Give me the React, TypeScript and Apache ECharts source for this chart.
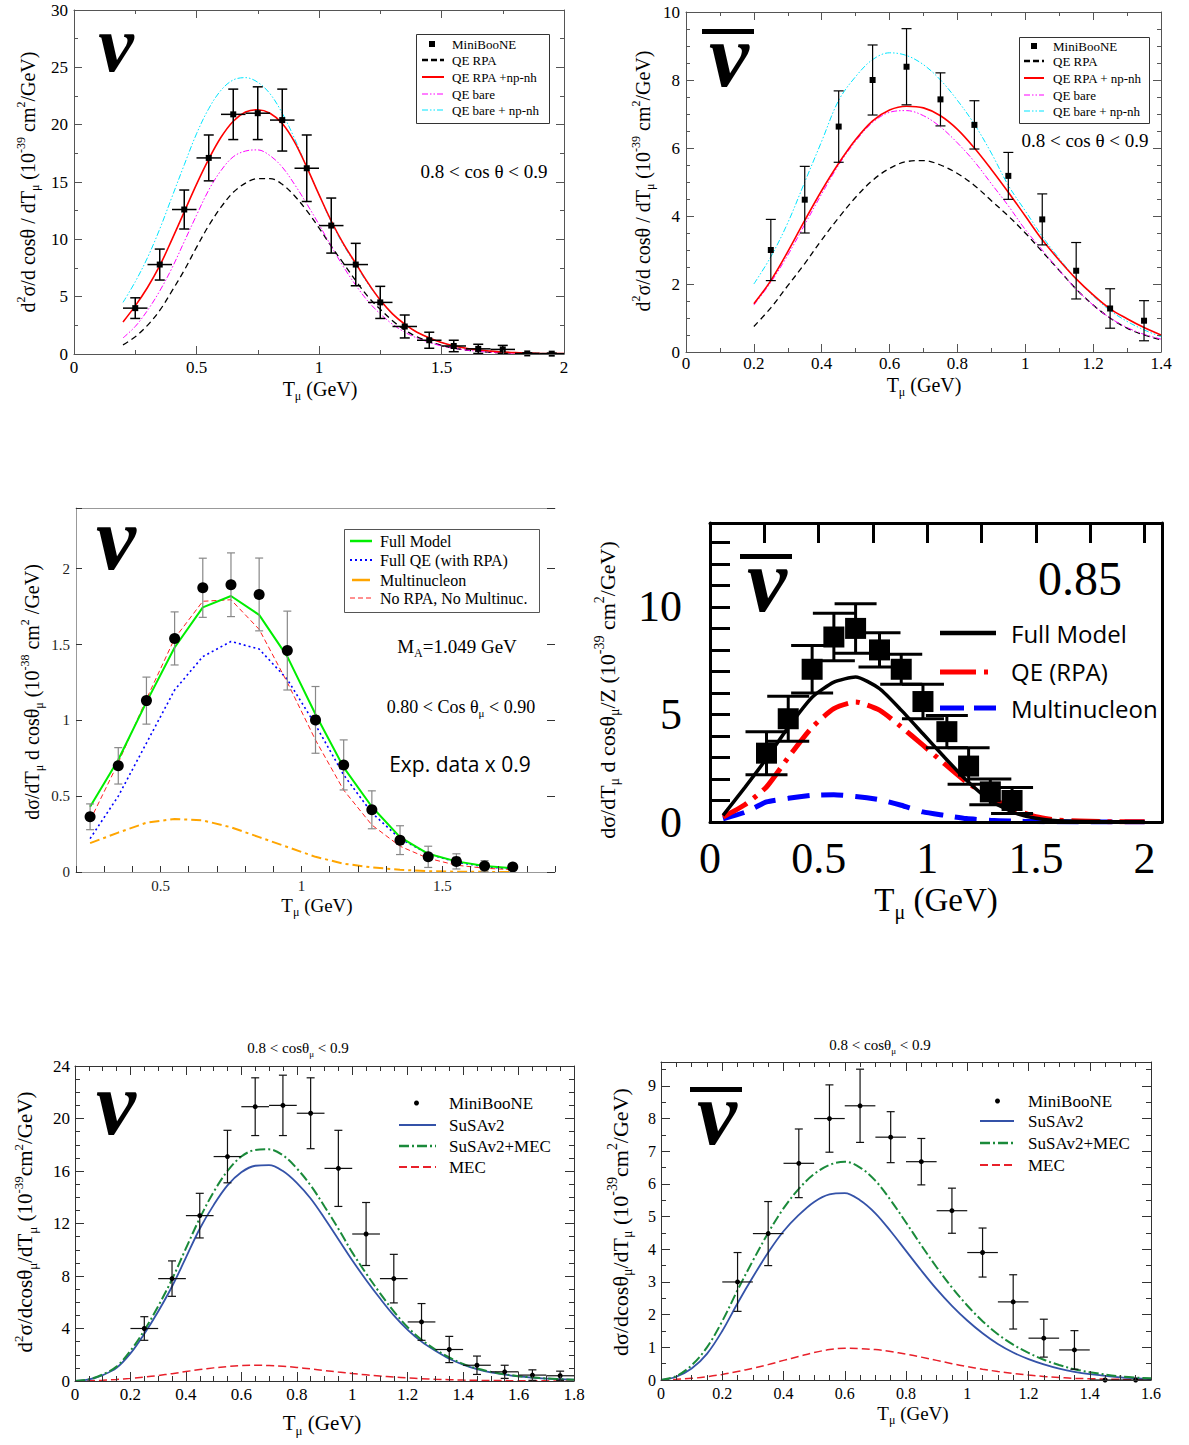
import React, { useEffect, useRef } from "react";
import * as echarts from "echarts";

const SERIF = "Liberation Serif";
const SANS = "Open Sans";

// ---------------- data ----------------
// MiniBooNE neutrino, 0.8 < cos θ < 0.9
const NU_T = [0.25, 0.35, 0.45, 0.55, 0.65, 0.75, 0.85, 0.95, 1.05, 1.15, 1.25, 1.35, 1.45, 1.55, 1.65, 1.75, 1.85, 1.95];
const NU_XS = [4.0, 7.8, 12.6, 17.1, 20.9, 21.0, 20.4, 16.2, 11.2, 7.8, 4.5, 2.4, 1.2, 0.7, 0.45, 0.4, 0.05, 0.03];
const NU_ERR = [0.9, 1.35, 1.7, 2.0, 2.2, 2.3, 2.7, 2.9, 2.4, 1.85, 1.4, 1.0, 0.7, 0.5, 0.4, 0.35, 0.05, 0.05];
const BIN_HALF = 0.05;

// MiniBooNE antineutrino, 0.8 < cos θ < 0.9
const NUBAR_T = [0.25, 0.35, 0.45, 0.55, 0.65, 0.75, 0.85, 0.95, 1.05, 1.15, 1.25, 1.35, 1.45, 1.55];
const NUBAR_XS = [3.0, 4.48, 6.63, 8.0, 8.39, 7.43, 6.68, 5.18, 3.9, 2.39, 1.28, 0.92, 0.0, 0.0];
const NUBAR_ERR = [0.9, 0.98, 1.05, 1.03, 1.12, 0.78, 0.71, 0.69, 0.75, 0.83, 0.58, 0.59, 0, 0];

// Panel 1 (nu, Martini et al.)
const P1_T = [0.2, 0.25, 0.3, 0.35, 0.4, 0.45, 0.5, 0.55, 0.6, 0.65, 0.7, 0.75, 0.8, 0.85, 0.9, 0.95, 1.0, 1.05, 1.1, 1.15, 1.2, 1.25, 1.3, 1.35, 1.4, 1.5, 1.6, 1.7, 1.8, 1.9, 2.0];
const P1_QE_RPA = [0.8, 1.5, 2.5, 3.8, 5.5, 7.3, 9.3, 11.2, 12.8, 14.1, 14.9, 15.3, 15.3, 14.8, 13.8, 12.5, 11.0, 9.4, 7.9, 6.4, 5.0, 3.9, 2.9, 2.1, 1.5, 0.75, 0.35, 0.15, 0.07, 0.03, 0.01];
const P1_QE_RPA_NPNH = [2.8, 4.2, 5.8, 7.7, 10.0, 12.4, 14.8, 17.0, 18.9, 20.3, 21.1, 21.3, 21.0, 20.1, 18.5, 16.3, 13.9, 11.6, 9.6, 7.9, 6.2, 4.7, 3.5, 2.6, 1.9, 1.0, 0.5, 0.25, 0.12, 0.06, 0.03];
const P1_QE_BARE = [1.4, 2.4, 3.8, 5.5, 7.5, 9.8, 12.1, 14.3, 16.0, 17.2, 17.7, 17.8, 17.3, 16.3, 14.8, 13.1, 11.3, 9.4, 7.6, 6.0, 4.6, 3.5, 2.6, 1.9, 1.4, 0.7, 0.35, 0.15, 0.07, 0.03, 0.01];
const P1_QE_BARE_NPNH = [4.5, 6.3, 8.4, 10.9, 13.7, 16.5, 19.2, 21.4, 23.0, 23.9, 24.1, 23.7, 22.7, 21.0, 18.8, 16.3, 13.9, 11.5, 9.5, 7.8, 6.1, 4.7, 3.5, 2.6, 1.9, 1.0, 0.5, 0.25, 0.12, 0.06, 0.03];

// Panel 2 (nubar, Martini et al.)
const P2_T = [0.2, 0.25, 0.3, 0.35, 0.4, 0.45, 0.5, 0.55, 0.6, 0.65, 0.7, 0.75, 0.8, 0.85, 0.9, 0.95, 1.0, 1.05, 1.1, 1.15, 1.2, 1.25, 1.3, 1.35, 1.4];
const P2_QE_RPA = [0.75, 1.3, 1.95, 2.6, 3.3, 3.95, 4.55, 5.05, 5.4, 5.6, 5.63, 5.5, 5.25, 4.9, 4.45, 4.0, 3.5, 2.95, 2.4, 1.85, 1.38, 1.0, 0.7, 0.5, 0.36];
const P2_QE_RPA_NPNH = [1.42, 2.1, 2.95, 3.87, 4.75, 5.55, 6.25, 6.8, 7.12, 7.23, 7.18, 6.95, 6.55, 6.0, 5.37, 4.7, 4.0, 3.3, 2.7, 2.15, 1.68, 1.27, 0.98, 0.72, 0.5];
const P2_QE_BARE = [1.38, 2.05, 2.85, 3.75, 4.65, 5.5, 6.2, 6.75, 7.05, 7.1, 6.95, 6.62, 6.15, 5.6, 4.95, 4.3, 3.6, 3.0, 2.4, 1.85, 1.38, 1.0, 0.72, 0.52, 0.38];
const P2_QE_BARE_NPNH = [2.0, 2.8, 3.8, 5.0, 6.2, 7.4, 8.1, 8.6, 8.8, 8.72, 8.45, 8.0, 7.4, 6.7, 5.85, 4.9, 4.15, 3.4, 2.75, 2.15, 1.65, 1.22, 0.9, 0.65, 0.45];

// Panel 3 (nu, Nieves et al., data x 0.9)
const P3_T = [0.25, 0.35, 0.45, 0.55, 0.65, 0.75, 0.85, 0.95, 1.05, 1.15, 1.25, 1.35, 1.45, 1.55, 1.65, 1.75];
const P3_XS = [0.364, 0.7, 1.13, 1.54, 1.874, 1.894, 1.83, 1.46, 1.003, 0.706, 0.41, 0.21, 0.1, 0.07, 0.04, 0.033];
const P3_ERR = [0.085, 0.12, 0.155, 0.175, 0.195, 0.21, 0.24, 0.26, 0.22, 0.165, 0.125, 0.095, 0.07, 0.05, 0.035, 0.02];
const P3_FULL = [0.43, 0.74, 1.12, 1.48, 1.745, 1.82, 1.695, 1.42, 1.04, 0.69, 0.43, 0.23, 0.12, 0.07, 0.04, 0.025];
const P3_QE_RPA = [0.22, 0.5, 0.85, 1.2, 1.42, 1.52, 1.47, 1.27, 0.97, 0.64, 0.39, 0.22, 0.12, 0.065, 0.035, 0.02];
const P3_MULTI = [0.19, 0.26, 0.325, 0.35, 0.34, 0.295, 0.23, 0.165, 0.1, 0.055, 0.03, 0.015, 0.005, 0.002, 0.001, 0.0];
const P3_NO_RPA = [0.34, 0.72, 1.14, 1.54, 1.785, 1.795, 1.6, 1.25, 0.87, 0.54, 0.31, 0.17, 0.09, 0.045, 0.025, 0.015];

// Panel 4 (nubar, cos θ = 0.85)
const P4_T = [0.06, 0.16, 0.26, 0.36, 0.47, 0.57, 0.67, 0.78, 0.88, 0.98, 1.08, 1.18, 1.29, 1.39, 1.5, 1.6, 1.8, 2.0];
const P4_FULL = [0.31, 1.6, 2.95, 4.4, 5.8, 6.5, 6.74, 6.2, 5.2, 4.1, 3.0, 1.94, 1.0, 0.47, 0.17, 0.06, 0.02, 0.01];
const P4_QE_RPA = [0.23, 0.8, 1.63, 3.0, 4.4, 5.27, 5.58, 5.2, 4.42, 3.57, 2.7, 1.86, 1.16, 0.62, 0.25, 0.09, 0.02, 0.01];
const P4_MULTI = [0.15, 0.45, 0.93, 1.1, 1.24, 1.27, 1.19, 1.04, 0.78, 0.47, 0.31, 0.16, 0.08, 0.04, 0.02, 0.01, 0.0, 0.0];
const P4_DATA_T = [0.26, 0.36, 0.47, 0.57, 0.67, 0.78, 0.88, 0.98, 1.09, 1.19, 1.29, 1.39];
const P4_XS = [3.2, 4.8, 7.1, 8.6, 9.0, 8.0, 7.1, 5.6, 4.2, 2.6, 1.4, 1.0];
const P4_ERR = [1.0, 1.05, 1.1, 1.1, 1.15, 0.8, 0.7, 0.8, 0.75, 0.85, 0.6, 0.6];

// Panel 5 (nu, SuSAv2)
const P5_T = [0, 0.05, 0.1, 0.15, 0.2, 0.25, 0.3, 0.35, 0.4, 0.45, 0.5, 0.55, 0.6, 0.65, 0.7, 0.75, 0.8, 0.85, 0.9, 0.95, 1.0, 1.05, 1.1, 1.15, 1.2, 1.25, 1.3, 1.35, 1.4, 1.45, 1.5, 1.6, 1.7, 1.8];
const P5_SUSA = [0, 0.12, 0.45, 1.0, 2.1, 3.6, 5.3, 7.2, 9.4, 11.6, 13.4, 14.9, 15.9, 16.4, 16.45, 16.0, 15.1, 13.9, 12.4, 10.8, 9.2, 7.7, 6.3, 5.0, 3.9, 3.0, 2.3, 1.7, 1.25, 0.9, 0.65, 0.35, 0.18, 0.1];
const P5_SUSA_MEC = [0, 0.13, 0.5, 1.1, 2.3, 3.85, 5.7, 7.75, 10.1, 12.4, 14.4, 16.0, 17.1, 17.6, 17.65, 17.2, 16.2, 14.9, 13.3, 11.6, 9.8, 8.2, 6.7, 5.3, 4.1, 3.15, 2.4, 1.8, 1.3, 0.95, 0.7, 0.37, 0.19, 0.1];
const P5_MEC = [0, 0.02, 0.06, 0.12, 0.2, 0.3, 0.42, 0.56, 0.72, 0.87, 1.0, 1.1, 1.17, 1.2, 1.18, 1.12, 1.03, 0.92, 0.8, 0.68, 0.57, 0.47, 0.38, 0.3, 0.23, 0.18, 0.13, 0.1, 0.07, 0.05, 0.04, 0.02, 0.01, 0.0];

// Panel 6 (nubar, SuSAv2)
const P6_T = [0, 0.05, 0.1, 0.15, 0.2, 0.25, 0.3, 0.35, 0.4, 0.45, 0.5, 0.55, 0.6, 0.65, 0.7, 0.75, 0.8, 0.85, 0.9, 0.95, 1.0, 1.05, 1.1, 1.15, 1.2, 1.25, 1.3, 1.35, 1.4, 1.5, 1.6];
const P6_SUSA = [0, 0.1, 0.35, 0.8, 1.5, 2.35, 3.15, 3.9, 4.55, 5.05, 5.45, 5.68, 5.72, 5.5, 5.1, 4.55, 3.95, 3.35, 2.78, 2.27, 1.82, 1.43, 1.1, 0.84, 0.64, 0.48, 0.35, 0.25, 0.18, 0.08, 0.03];
const P6_SUSA_MEC = [0, 0.12, 0.45, 1.0, 1.8, 2.75, 3.65, 4.5, 5.25, 5.85, 6.3, 6.58, 6.68, 6.5, 6.1, 5.5, 4.82, 4.12, 3.45, 2.83, 2.28, 1.8, 1.4, 1.08, 0.83, 0.62, 0.46, 0.33, 0.24, 0.11, 0.05];
const P6_MEC = [0, 0.02, 0.05, 0.1, 0.17, 0.26, 0.36, 0.47, 0.6, 0.72, 0.84, 0.93, 0.97, 0.96, 0.93, 0.87, 0.79, 0.7, 0.6, 0.5, 0.41, 0.33, 0.26, 0.2, 0.15, 0.11, 0.08, 0.05, 0.04, 0.02, 0.01];

// ---------------- helpers ----------------
function labelFmt(step: number) {
  return (v: number) => {
    const r = v / step;
    if (Math.abs(r - Math.round(r)) > 1e-6) return "";
    return String(parseFloat(v.toFixed(4)));
  };
}

function mkAxis(grid: number, position: string, c: any) {
  const col = c.color || "#000";
  const tcol = c.tickColor || col;
  const hasTicks = (c.tickLen || 0) > 0;
  return {
    type: "value",
    gridIndex: grid,
    position,
    min: c.min,
    max: c.max,
    interval: c.interval,
    axisLine: { show: true, onZero: false, lineStyle: { color: col, width: c.width || 1 } },
    axisTick: { show: hasTicks, inside: true, length: c.tickLen || 0, lineStyle: { color: tcol, width: c.tickWidth || 1 } },
    minorTick: { show: hasTicks && !!c.minor, splitNumber: c.minor || 5, length: c.minorLen || 4, lineStyle: { color: tcol, width: c.tickWidth || 1 } },
    axisLabel: c.labels
      ? { show: true, formatter: labelFmt(c.labelStep), fontFamily: SERIF, fontSize: c.fontSize || 16, color: c.labelColor || "#000", margin: c.margin ?? 6 }
      : { show: false },
    splitLine: { show: false },
    minorSplitLine: { show: false },
    silent: true,
    z: 5,
  };
}

function lineS(p: number, T: number[], Y: number[], color: string, width: number, type: any, smooth: any = 0.35) {
  return {
    type: "line",
    xAxisIndex: 2 * p,
    yAxisIndex: 2 * p,
    data: T.map((t, i) => [t, Y[i]]),
    symbol: "none",
    showSymbol: false,
    smooth,
    clip: true,
    silent: true,
    lineStyle: { color, width, type },
    z: 2,
  };
}

function scatterS(p: number, T: number[], Y: number[], symbol: string, size: number, color: string) {
  return {
    type: "scatter",
    xAxisIndex: 2 * p,
    yAxisIndex: 2 * p,
    data: T.map((t, i) => [t, Y[i]]),
    symbol,
    symbolSize: size,
    itemStyle: { color, opacity: 1 },
    clip: true,
    silent: true,
    z: 4,
  };
}

function errS(p: number, T: number[], Y: number[], E: number[], hx: number, color: string, width: number, cap: number) {
  return {
    type: "custom",
    xAxisIndex: 2 * p,
    yAxisIndex: 2 * p,
    data: T.map((t, i) => [t, Y[i], E[i], hx]),
    encode: { x: 0, y: 1 },
    clip: true,
    silent: true,
    z: 3,
    renderItem: (params: any, api: any) => {
      const x = api.value(0);
      const y = api.value(1);
      const e = api.value(2);
      const h = api.value(3);
      const style = { stroke: color, lineWidth: width, fill: null };
      const children: any[] = [];
      if (e > 0) {
        const top = api.coord([x, y + e]);
        const bot = api.coord([x, y - e]);
        children.push({ type: "line", shape: { x1: top[0], y1: top[1], x2: bot[0], y2: bot[1] }, style });
        if (cap > 0) {
          children.push({ type: "line", shape: { x1: top[0] - cap / 2, y1: top[1], x2: top[0] + cap / 2, y2: top[1] }, style });
          children.push({ type: "line", shape: { x1: bot[0] - cap / 2, y1: bot[1], x2: bot[0] + cap / 2, y2: bot[1] }, style });
        }
      }
      if (h > 0) {
        const l = api.coord([x - h, y]);
        const r = api.coord([x + h, y]);
        children.push({ type: "line", shape: { x1: l[0], y1: l[1], x2: r[0], y2: r[1] }, style });
      }
      return { type: "group", children };
    },
  };
}

function rt(x: number, y: number, text: string, fs: number, opt: any = {}) {
  const fam = opt.family || SERIF;
  const s = Math.round(fs * 0.62);
  const lh = opt.lineHeight || Math.round(fs * 1.3);
  return {
    type: "text",
    x,
    y,
    rotation: opt.rotation || 0,
    z: 60,
    silent: true,
    style: {
      text,
      align: opt.align || "center",
      verticalAlign: "middle",
      fill: "#000",
      fontSize: fs,
      fontFamily: fam,
      fontWeight: opt.weight || "normal",
      fontStyle: opt.style || "normal",
      lineHeight: lh,
      rich: {
        n: { fontSize: fs, fontFamily: fam, lineHeight: lh, fill: "#000" },
        sub: { fontSize: s, fontFamily: fam, lineHeight: s, verticalAlign: "bottom", fill: "#000" },
        sup: { fontSize: s, fontFamily: fam, lineHeight: s, verticalAlign: "top", fill: "#000" },
      },
    },
  };
}

function gl(x1: number, y1: number, x2: number, y2: number, color: string, width: number, dash?: number[]) {
  return { type: "line", z: 60, silent: true, shape: { x1, y1, x2, y2 }, style: { stroke: color, lineWidth: width, lineDash: dash || null } };
}
function gr(x: number, y: number, w: number, h: number, fill: string, stroke?: string, lw = 1) {
  return { type: "rect", z: 55, silent: true, shape: { x, y, width: w, height: h }, style: { fill, stroke: stroke || null, lineWidth: lw } };
}
function gc(cx: number, cy: number, r: number, fill: string) {
  return { type: "circle", z: 60, silent: true, shape: { cx, cy, r }, style: { fill } };
}
function nu(x: number, y: number, bar: boolean, fs = 90) {
  const out: any[] = [
    {
      type: "text",
      x,
      y,
      z: 60,
      silent: true,
      style: {
        text: "ν",
        align: "center",
        verticalAlign: "middle",
        fill: "#000",
        fontSize: fs,
        fontFamily: SERIF,
        fontWeight: "bold",
        fontStyle: "italic",
        lineHeight: Math.round(fs * 0.66),
      },
    },
  ];
  if (bar) out.push(gr(x - 27, y - 26, 52, 5, "#000"));
  return out;
}

const TMU = "{n|T}{sub|μ}{n| (GeV)}";
const DASHDOTDOT = [6, 2, 1.5, 2, 1.5, 2];

function buildOption() {
  const grids: any[] = [];
  const xAxis: any[] = [];
  const yAxis: any[] = [];
  const series: any[] = [];
  const graphic: any[] = [];

  const addPanel = (g: number[], xb: any, xt: any, yl: any, yr: any) => {
    const i = grids.length;
    grids.push({ left: g[0], top: g[1], width: g[2], height: g[3], containLabel: false });
    xAxis.push(mkAxis(i, "bottom", xb), mkAxis(i, "top", xt));
    yAxis.push(mkAxis(i, "left", yl), mkAxis(i, "right", yr));
  };

  // ---- Panel 1 ----
  {
    const c = "#555";
    const x = { min: 0, max: 2, interval: 0.5, minor: 2, labelStep: 0.5, fontSize: 17, margin: 5, tickLen: 8, minorLen: 4, color: c };
    const y = { min: 0, max: 30, interval: 5, minor: 2, labelStep: 5, fontSize: 17, margin: 6, tickLen: 8, minorLen: 4, color: c };
    addPanel([74, 10, 490, 344], { ...x, labels: true }, x, { ...y, labels: true }, y);
    series.push(
      lineS(0, P1_T, P1_QE_RPA, "#000", 1.3, [6, 4]),
      lineS(0, P1_T, P1_QE_BARE, "#ff00ff", 1, DASHDOTDOT),
      lineS(0, P1_T, P1_QE_BARE_NPNH, "#00e5ff", 1, DASHDOTDOT),
      lineS(0, P1_T, P1_QE_RPA_NPNH, "#ff0000", 1.6, "solid"),
      errS(0, NU_T, NU_XS, NU_ERR, BIN_HALF, "#000", 1.5, 10),
      scatterS(0, NU_T, NU_XS, "rect", 6, "#000")
    );
    graphic.push(...nu(116, 44, false, 80));
    graphic.push(gr(416.5, 34.5, 133, 89, "#fff", "#333", 1));
    graphic.push(gr(429, 41, 6, 6, "#000"));
    graphic.push(gl(422, 60, 444, 60, "#000", 2.5, [6, 3]));
    graphic.push(gl(422, 77, 444, 77, "#ff0000", 2));
    graphic.push(gl(422, 94, 444, 94, "#ff00ff", 1.2, DASHDOTDOT));
    graphic.push(gl(422, 110, 444, 110, "#00e5ff", 1.2, DASHDOTDOT));
    const leg = ["MiniBooNE", "QE RPA", "QE RPA +np-nh", "QE bare", "QE bare + np-nh"];
    const rows = [44, 60, 77, 94, 110];
    leg.forEach((t, k) => graphic.push(rt(452, rows[k], t, 13, { align: "left" })));
    graphic.push(rt(484, 171, "0.8 < cos θ < 0.9", 19));
    graphic.push(rt(320, 389, TMU, 20));
    graphic.push(rt(28, 182, "{n|d}{sup|2}{n|σ/d cosθ / dT}{sub|μ}{n| (10}{sup|-39}{n| cm}{sup|2}{n|/GeV)}", 20, { rotation: Math.PI / 2 }));
  }

  // ---- Panel 2 ----
  {
    const c = "#555";
    const x = { min: 0, max: 1.4, interval: 0.2, minor: 2, labelStep: 0.2, fontSize: 17, margin: 3, tickLen: 8, minorLen: 4, color: c };
    const y = { min: 0, max: 10, interval: 2, minor: 4, labelStep: 2, fontSize: 17, margin: 6, tickLen: 8, minorLen: 4, color: c };
    addPanel([686, 12, 475, 340], { ...x, labels: true }, x, { ...y, labels: true }, y);
    series.push(
      lineS(1, P2_T, P2_QE_RPA, "#000", 1.3, [6, 4]),
      lineS(1, P2_T, P2_QE_BARE, "#ff00ff", 1, DASHDOTDOT),
      lineS(1, P2_T, P2_QE_BARE_NPNH, "#00e5ff", 1, DASHDOTDOT),
      lineS(1, P2_T, P2_QE_RPA_NPNH, "#ff0000", 1.6, "solid"),
      errS(1, NUBAR_T, NUBAR_XS, NUBAR_ERR, 0, "#000", 1.2, 10),
      scatterS(1, NUBAR_T, NUBAR_XS, "rect", 6, "#000")
    );
    graphic.push(...nu(729, 55, true));
    graphic.push(gr(1019.5, 37.5, 130, 86, "#fff", "#333", 1));
    graphic.push(gr(1031, 43, 6, 6, "#000"));
    graphic.push(gl(1024, 61, 1044, 61, "#000", 2.5, [6, 3]));
    graphic.push(gl(1024, 78, 1044, 78, "#ff0000", 2));
    graphic.push(gl(1024, 95, 1044, 95, "#ff00ff", 1.2, DASHDOTDOT));
    graphic.push(gl(1024, 111, 1044, 111, "#00e5ff", 1.2, DASHDOTDOT));
    const leg = ["MiniBooNE", "QE RPA", "QE RPA + np-nh", "QE bare", "QE bare + np-nh"];
    const rows = [46, 61, 78, 95, 111];
    leg.forEach((t, k) => graphic.push(rt(1053, rows[k], t, 13, { align: "left" })));
    graphic.push(rt(1085, 140, "0.8 < cos θ < 0.9", 19));
    graphic.push(rt(924, 385, TMU, 20));
    graphic.push(rt(643, 181, "{n|d}{sup|2}{n|σ/d cosθ / dT}{sub|μ}{n| (10}{sup|-39}{n| cm}{sup|2}{n|/GeV)}", 20, { rotation: Math.PI / 2 }));
  }

  // ---- Panel 3 ----
  {
    const c = "#999";
    const xb = { min: 0.2, max: 1.9, interval: 0.1, labelStep: 0.5, fontSize: 15, margin: 6, tickLen: 6, color: c, tickColor: "#333", labels: true, labelColor: "#222" };
    const xt = { min: 0.2, max: 1.9, interval: 0.1, tickLen: 0, color: c };
    const yl = { min: 0, max: 2.4, interval: 0.5, labelStep: 0.5, fontSize: 15, margin: 6, tickLen: 6, color: c, tickColor: "#333", labels: true, labelColor: "#222" };
    const yr = { min: 0, max: 2.4, interval: 0.5, tickLen: 8, color: "rgba(0,0,0,0)", tickColor: "#333" };
    addPanel([76, 508, 479, 364], xb, xt, yl, yr);
    series.push(
      lineS(2, P3_T, P3_MULTI, "#ffa500", 2, [10, 4, 3, 4], false),
      lineS(2, P3_T, P3_QE_RPA, "#0000ff", 1.6, [2, 3], false),
      lineS(2, P3_T, P3_NO_RPA, "#ff2020", 1, [5, 3], false),
      lineS(2, P3_T, P3_FULL, "#00ee00", 2, "solid", false),
      errS(2, P3_T, P3_XS, P3_ERR, 0, "#888", 1.2, 8),
      scatterS(2, P3_T, P3_XS, "circle", 11, "#000")
    );
    graphic.push(...nu(116, 538, false));
    graphic.push(gr(344.5, 529.5, 195, 83, "#fff", "#555", 1));
    graphic.push(gl(350, 541, 372, 541, "#00ee00", 2.5));
    graphic.push(gl(350, 560, 372, 560, "#0000ff", 2, [2, 3]));
    graphic.push(gl(352, 580, 370, 580, "#ffa500", 2.5));
    graphic.push(gl(350, 598, 372, 598, "#ff2020", 1, [5, 3]));
    const leg = ["Full Model", "Full QE (with RPA)", "Multinucleon", "No RPA, No Multinuc."];
    const rows = [541, 560, 580, 598];
    leg.forEach((t, k) => graphic.push(rt(380, rows[k], t, 16, { align: "left" })));
    graphic.push(rt(457, 646, "{n|M}{sub|A}{n|=1.049 GeV}", 19));
    graphic.push(rt(461, 707, "{n|0.80 < Cos θ}{sub|μ}{n| < 0.90}", 18));
    graphic.push(rt(460, 764, "Exp. data x 0.9", 21, { family: SANS }));
    graphic.push(rt(317, 905, TMU, 19));
    graphic.push(rt(32, 692, "{n|dσ/dT}{sub|μ}{n| d cosθ}{sub|μ}{n| (10}{sup|-38}{n| cm}{sup|2}{n| /GeV)}", 20, { rotation: Math.PI / 2 }));
  }

  // ---- Panel 4 ----
  {
    const c = "#000";
    const xb = { min: 0, max: 2.08, interval: 0.5, labelStep: 0.5, fontSize: 44, margin: 14, tickLen: 0, color: c, width: 3, labels: true };
    const xt = { min: 0, max: 2.08, interval: 0.25, tickLen: 20, tickWidth: 3, color: c, width: 3 };
    const yl = { min: 0, max: 13.9, interval: 1, labelStep: 5, fontSize: 44, margin: 28, tickLen: 20, tickWidth: 3, color: c, width: 3, labels: true };
    const yr = { min: 0, max: 13.9, interval: 1, tickLen: 0, color: c, width: 3 };
    addPanel([710, 523, 452, 299], xb, xt, yl, yr);
    series.push(
      lineS(3, P4_T, P4_MULTI, "#0000ff", 5, [22, 12], 0.2),
      lineS(3, P4_T, P4_QE_RPA, "#ff0000", 5, [28, 8, 4, 8], 0.2),
      lineS(3, P4_T, P4_FULL, "#000", 3.5, "solid", 0.2),
      errS(3, P4_DATA_T, P4_XS, P4_ERR, 0, "#000", 3, 42),
      scatterS(3, P4_DATA_T, P4_XS, "rect", 21, "#000")
    );
    graphic.push(...nu(767, 580, true));
    graphic.push(rt(1080, 578, "0.85", 48));
    graphic.push(gl(940, 633, 996, 633, "#000", 4.5));
    graphic.push(gl(940, 672, 996, 672, "#ff0000", 5, [36, 8, 4, 8]));
    graphic.push(gl(940, 708, 996, 708, "#0000ff", 5, [24, 10]));
    graphic.push(rt(1011, 633, "Full Model", 24, { align: "left", family: SANS }));
    graphic.push(rt(1011, 671, "QE (RPA)", 24, { align: "left", family: SANS }));
    graphic.push(rt(1011, 708, "Multinucleon", 24, { align: "left", family: SANS }));
    graphic.push(rt(936, 900, TMU, 33));
    graphic.push(rt(607, 690, "{n|dσ/dT}{sub|μ}{n| d cosθ}{sub|μ}{n|/Z (10}{sup|-39}{n| cm}{sup|2}{n|/GeV)}", 22, { rotation: Math.PI / 2 }));
  }

  // ---- Panel 5 ----
  {
    const c = "#333";
    const x = { min: 0, max: 1.8, interval: 0.2, minor: 4, labelStep: 0.2, fontSize: 17, margin: 5, tickLen: 9, minorLen: 5, color: c };
    const y = { min: 0, max: 24, interval: 4, minor: 4, labelStep: 4, fontSize: 17, margin: 5, tickLen: 9, minorLen: 5, color: c };
    addPanel([75, 1066, 499, 315], { ...x, labels: true }, x, { ...y, labels: true }, y);
    series.push(
      lineS(4, P5_T, P5_MEC, "#e8202a", 1.5, [8, 4]),
      lineS(4, P5_T, P5_SUSA, "#3452a8", 1.8, "solid"),
      lineS(4, P5_T, P5_SUSA_MEC, "#1a8a3a", 2, [10, 3, 2, 3]),
      errS(4, NU_T, NU_XS, NU_ERR, BIN_HALF, "#111", 1.2, 8),
      scatterS(4, NU_T, NU_XS, "circle", 5, "#000")
    );
    graphic.push(...nu(116, 1103, false));
    graphic.push(rt(298, 1048, "{n|0.8 < cosθ}{sub|μ}{n| < 0.9}", 15));
    graphic.push(gc(416.5, 1103, 2.5, "#000"));
    graphic.push(gl(399, 1125, 436, 1125, "#3452a8", 2));
    graphic.push(gl(399, 1146, 436, 1146, "#1a8a3a", 2.5, [10, 3, 2, 3]));
    graphic.push(gl(399, 1167, 436, 1167, "#e8202a", 2, [8, 4]));
    const leg = ["MiniBooNE", "SuSAv2", "SuSAv2+MEC", "MEC"];
    const rows = [1103, 1125, 1146, 1167];
    leg.forEach((t, k) => graphic.push(rt(449, rows[k], t, 17, { align: "left" })));
    graphic.push(rt(322, 1423, TMU, 21));
    graphic.push(rt(25, 1222, "{n|d}{sup|2}{n|σ/dcosθ}{sub|μ}{n|/dT}{sub|μ}{n| (10}{sup|-39}{n|cm}{sup|2}{n|/GeV)}", 21, { rotation: Math.PI / 2 }));
  }

  // ---- Panel 6 ----
  {
    const c = "#333";
    const x = { min: 0, max: 1.6, interval: 0.2, minor: 4, labelStep: 0.2, fontSize: 16, margin: 5, tickLen: 9, minorLen: 5, color: c };
    const y = { min: 0, max: 9.73, interval: 1, minor: 2, labelStep: 1, fontSize: 16, margin: 5, tickLen: 9, minorLen: 5, color: c };
    addPanel([661, 1062, 490, 318], { ...x, labels: true }, x, { ...y, labels: true }, y);
    series.push(
      lineS(5, P6_T, P6_MEC, "#e8202a", 1.5, [8, 4]),
      lineS(5, P6_T, P6_SUSA, "#3452a8", 1.8, "solid"),
      lineS(5, P6_T, P6_SUSA_MEC, "#1a8a3a", 2, [10, 3, 2, 3]),
      errS(5, NUBAR_T, NUBAR_XS, NUBAR_ERR, BIN_HALF, "#111", 1.2, 8),
      scatterS(5, NUBAR_T, NUBAR_XS, "circle", 5, "#000")
    );
    graphic.push(...nu(717, 1113, true));
    graphic.push(rt(880, 1045, "{n|0.8 < cosθ}{sub|μ}{n| < 0.9}", 15));
    graphic.push(gc(997.5, 1101, 2.5, "#000"));
    graphic.push(gl(980, 1121, 1014, 1121, "#3452a8", 2));
    graphic.push(gl(980, 1143, 1014, 1143, "#1a8a3a", 2.5, [10, 3, 2, 3]));
    graphic.push(gl(980, 1165, 1014, 1165, "#e8202a", 2, [8, 4]));
    const leg = ["MiniBooNE", "SuSAv2", "SuSAv2+MEC", "MEC"];
    const rows = [1101, 1121, 1143, 1165];
    leg.forEach((t, k) => graphic.push(rt(1028, rows[k], t, 17, { align: "left" })));
    graphic.push(rt(913, 1413, TMU, 19));
    graphic.push(rt(620, 1222, "{n|dσ/dcosθ}{sub|μ}{n|/dT}{sub|μ}{n| (10}{sup|-39}{n|cm}{sup|2}{n|/GeV)}", 22, { rotation: Math.PI / 2 }));
  }

  return {
    animation: false,
    backgroundColor: "#fff",
    grid: grids,
    xAxis,
    yAxis,
    series,
    graphic,
  };
}

export default function App() {
  const ref = useRef<HTMLDivElement>(null);
  useEffect(() => {
    if (!ref.current) return;
    const chart = echarts.init(ref.current, undefined, { renderer: "svg", width: 1189, height: 1445 });
    chart.setOption(buildOption() as any);
    return () => chart.dispose();
  }, []);
  return (
    <div
      ref={ref}
      style={{ position: "absolute", left: 0, top: 0, width: 1189, height: 1445, background: "#fff" }}
    />
  );
}
